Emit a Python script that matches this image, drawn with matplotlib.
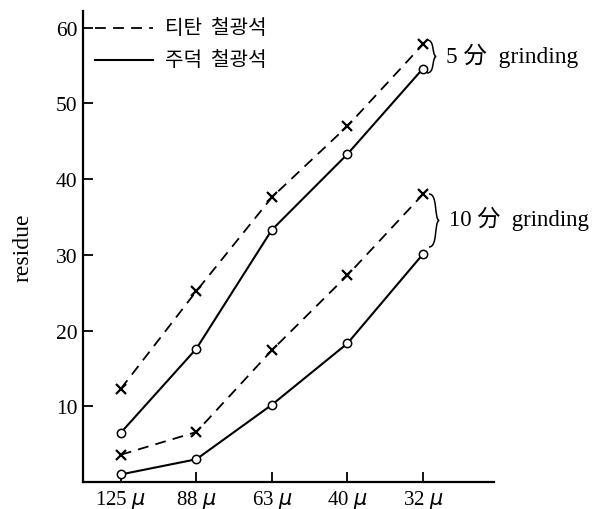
import matplotlib
matplotlib.use("Agg")
import matplotlib.pyplot as plt
from matplotlib.path import Path
from matplotlib.patches import PathPatch

categories = ["125 $\\mu$", "88 $\\mu$", "63 $\\mu$", "40 $\\mu$", "32 $\\mu$"]
titan_5 = [12.3, 25.2, 37.6, 47.0, 57.8]
jude_5 = [6.5, 17.6, 33.3, 43.3, 54.6]
titan_10 = [3.6, 6.6, 17.4, 27.3, 38.0]
jude_10 = [1.0, 3.0, 10.2, 18.3, 30.1]
y_ticks = [10, 20, 30, 40, 50, 60]
legend_labels = ["티탄  철광석", "주덕  철광석"]
group_labels = ["5 分  grinding", "10 分  grinding"]

W, H = 595, 510
fig = plt.figure(figsize=(W / 100, H / 100), dpi=100)
ax = fig.add_axes([83 / W, (H - 483) / H, (494 - 83) / W, (483 - 12) / H])

serif = ["Liberation Serif", "Noto Sans CJK JP"]
x = list(range(len(categories)))
dash_kw = dict(color="black", lw=1.3, ls=(0, (6, 4)), marker="x", ms=7, mew=1.6)
solid_kw = dict(color="black", lw=1.5, ls="-", marker="o", ms=6, mew=1.1, mfc="white")
ax.plot(x, titan_5, **dash_kw)
ax.plot(x, jude_5, **solid_kw)
ax.plot(x, titan_10, **dash_kw)
ax.plot(x, jude_10, **solid_kw)

ax.set_xlim(-0.5, 4.94)
ax.set_ylim(0, 62.2)
ax.set_xticks(x)
ax.set_xticklabels(categories, family=serif, fontsize=15)
ax.set_yticks(y_ticks)
ax.set_yticklabels([str(v) for v in y_ticks], family=serif, fontsize=15.5)
ax.tick_params(direction="in", length=7, width=1.3, pad=4)
for s in ["top", "right"]:
    ax.spines[s].set_visible(False)
for s in ["left", "bottom"]:
    ax.spines[s].set_linewidth(1.6)
ax.set_ylabel("residue", family=serif, fontsize=17, labelpad=16)

# legend (drawn manually)
def fx(px):
    return px / W
def fy(py):
    return (H - py) / H

fig.add_artist(plt.Line2D([fx(95), fx(153)], [fy(29), fy(29)], color="black", lw=1.3, ls=(0, (6, 4))))
fig.add_artist(plt.Line2D([fx(95), fx(153)], [fy(61), fy(61)], color="black", lw=1.5))
fig.text(fx(165), fy(29), legend_labels[0], family=["Noto Sans CJK KR"], fontsize=14.5, va="center", ha="left")
fig.text(fx(165), fy(61), legend_labels[1], family=["Noto Sans CJK KR"], fontsize=14.5, va="center", ha="left")

def brace(x0, y0, y1, w):
    # right-pointing curly brace in pixel coordinates (top y0, bottom y1)
    ym = (y0 + y1) / 2
    verts = [
        (x0, y0), (x0 + w * 0.9, y0), (x0 + w * 0.5, ym - 2), (x0 + w, ym),
        (x0 + w * 0.5, ym + 2), (x0 + w * 0.9, y1), (x0, y1),
    ]
    codes = [Path.MOVETO, Path.CURVE4, Path.CURVE4, Path.CURVE4, Path.CURVE4, Path.CURVE4, Path.CURVE4]
    verts = [(fx(a), fy(b)) for a, b in verts]
    p = PathPatch(Path(verts, codes), transform=fig.transFigure, fill=False, lw=1.1, color="black")
    fig.add_artist(p)

brace(427, 41, 74, 9)
brace(429, 195, 248, 10)
fig.text(fx(446), fy(56), group_labels[0], family=serif, fontsize=16.8, va="center", ha="left")
fig.text(fx(449), fy(219), group_labels[1], family=serif, fontsize=16.5, va="center", ha="left")

fig.savefig("out.png", dpi=100)
